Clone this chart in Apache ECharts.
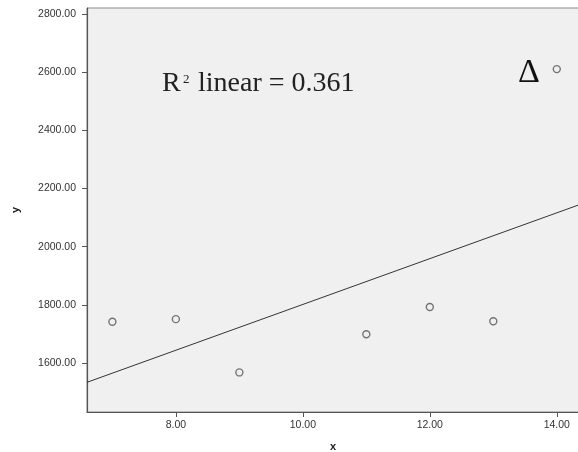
<!DOCTYPE html>
<html>
<head>
<meta charset="utf-8">
<script src="https://cdn.jsdelivr.net/npm/echarts@6/dist/echarts.min.js"></script>
<style>
html,body{margin:0;padding:0;background:#fff;}
#chart{width:578px;height:452px;}
</style>
</head>
<body>
<div id="chart"></div>
<script>
// Data
const xValues = [7, 8, 9, 11, 12, 13, 14];
const yValues = [1742, 1751, 1568, 1699, 1793, 1744, 2610];
// Fit line end points (as seen in the picture)
const fitX = [6.6, 14.34];
const fitY = [1534, 2143];
const xTicks = [8, 10, 12, 14];
const yTicks = [1600, 1800, 2000, 2200, 2400, 2600, 2800];
const r2Text = 'linear = 0.361';

const points = xValues.map((x, i) => [x, yValues[i]]);
const fitLine = fitX.map((x, i) => [x, fitY[i]]);

const chart = echarts.init(document.getElementById('chart'), null, {renderer: 'canvas'});
const labelStyle = {color: '#333', fontFamily: 'Liberation Sans, Arial, sans-serif', fontSize: 10.5};
chart.setOption({
  animation: false,
  backgroundColor: '#ffffff',
  grid: {
    left: 87, top: 8, right: -1, bottom: 40,
    outerBoundsMode: 'none', containLabel: false,
    show: true, backgroundColor: '#f0f0f0', borderColor: '#8a8a8a', borderWidth: 1
  },
  xAxis: {
    type: 'value', min: 6.6, max: 14.35,
    name: 'x', nameLocation: 'middle', nameGap: 29,
    nameTextStyle: {color: '#222', fontWeight: 'bold', fontSize: 11, fontFamily: 'Liberation Sans, Arial, sans-serif'},
    axisLine: {show: true, onZero: false, lineStyle: {color: '#555', width: 1.2}},
    axisTick: {show: true, length: 5, customValues: xTicks, lineStyle: {color: '#555'}},
    axisLabel: Object.assign({customValues: xTicks, margin: 8, formatter: v => v.toFixed(2)}, labelStyle),
    splitLine: {show: false}
  },
  yAxis: {
    type: 'value', min: 1432, max: 2820,
    name: 'y', nameLocation: 'middle', nameGap: 66, nameRotate: 90,
    nameTextStyle: {color: '#222', fontWeight: 'bold', fontSize: 11, fontFamily: 'Liberation Sans, Arial, sans-serif'},
    axisLine: {show: true, onZero: false, lineStyle: {color: '#555', width: 1.2}},
    axisTick: {show: true, length: 5, customValues: yTicks, lineStyle: {color: '#555'}},
    axisLabel: Object.assign({customValues: yTicks, margin: 11, formatter: v => v.toFixed(2)}, labelStyle),
    splitLine: {show: false}
  },
  series: [
    {
      type: 'line', data: fitLine, symbol: 'none', silent: true,
      lineStyle: {color: '#333', width: 1}
    },
    {
      type: 'scatter', data: points, symbol: 'circle', symbolSize: 7,
      itemStyle: {color: '#f0f0f0', borderColor: '#555', borderWidth: 1.4}
    }
  ],
  graphic: [
    {type: 'text', left: 162, top: 70, style: {text: 'R', font: '28px "Liberation Serif", "Times New Roman", serif', fill: '#222'}},
    {type: 'text', left: 183, top: 73, style: {text: '2', font: '13px "Liberation Serif", "Times New Roman", serif', fill: '#222'}},
    {type: 'text', left: 198, top: 70, style: {text: r2Text, font: '28px "Liberation Serif", "Times New Roman", serif', fill: '#222'}},
    {type: 'text', left: 518, top: 56, style: {text: '\u0394', font: '34px "Liberation Serif", "Times New Roman", serif', fill: '#111'}}
  ]
});
</script>
</body>
</html>
